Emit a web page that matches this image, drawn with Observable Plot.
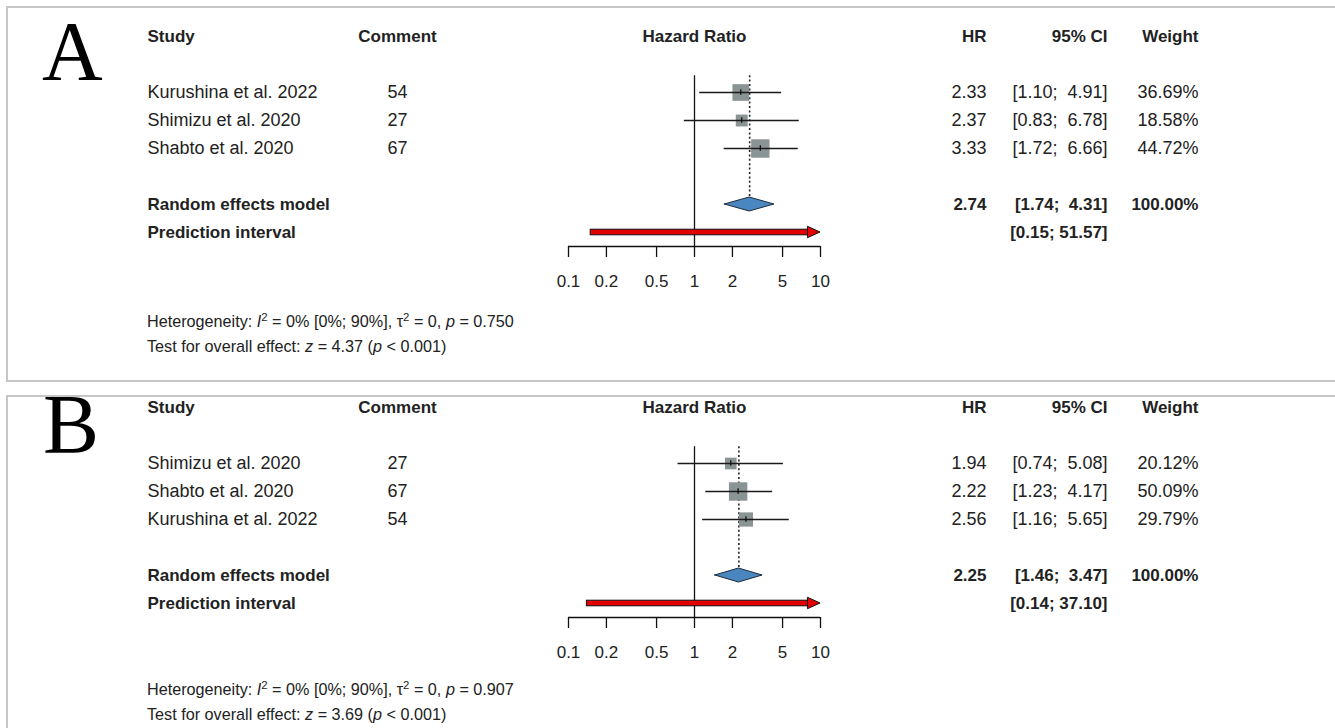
<!DOCTYPE html>
<html><head><meta charset="utf-8">
<script src="https://cdn.jsdelivr.net/npm/d3@7"></script>
<script src="https://cdn.jsdelivr.net/npm/@observablehq/plot@0.6"></script>
<style>
html,body{margin:0;padding:0;background:#fff;width:1335px;height:728px;overflow:hidden;}
#page{position:relative;width:1335px;height:728px;font-family:"Liberation Sans",Arial,sans-serif;color:#222;}
.box{position:absolute;left:6px;width:1345px;border:2px solid #c6c6c6;box-sizing:border-box;}
.letter{position:absolute;font-family:"Liberation Serif","Times New Roman",serif;font-size:84px;line-height:84px;color:#000;}
.foot{position:absolute;left:147px;font-size:16.2px;line-height:24.5px;white-space:nowrap;color:#222;}
.foot sup{font-size:0.7em;vertical-align:0.55em;line-height:0;}
.plotwrap{position:absolute;left:0;}
svg text{white-space:pre;}
</style></head><body><div id="page"></div>
<script>
// ---------- Panel A data ----------
const studiesA  = ["Kurushina et al. 2022", "Shimizu et al. 2020", "Shabto et al. 2020"];
const commentsA = [54, 27, 67];
const hrA       = [2.33, 2.37, 3.33];
const loA       = [1.10, 0.83, 1.72];
const hiA       = [4.91, 6.78, 6.66];
const weightA   = [36.69, 18.58, 44.72];
const pooledA   = [2.74, 1.74, 4.31];      // estimate, lower, upper
const predA     = [0.15, 51.57];
const hetA      = ["0%", "[0%; 90%]", "0", "0.750"];  // I2, I2 CI, tau2, p
const testA     = ["4.37", "< 0.001"];                 // z, p

// ---------- Panel B data ----------
const studiesB  = ["Shimizu et al. 2020", "Shabto et al. 2020", "Kurushina et al. 2022"];
const commentsB = [27, 67, 54];
const hrB       = [1.94, 2.22, 2.56];
const loB       = [0.74, 1.23, 1.16];
const hiB       = [5.08, 4.17, 5.65];
const weightB   = [20.12, 50.09, 29.79];
const pooledB   = [2.25, 1.46, 3.47];
const predB     = [0.14, 37.10];
const hetB      = ["0%", "[0%; 90%]", "0", "0.907"];
const testB     = ["3.69", "< 0.001"];

// ---------- shared ----------
const xTicks  = [0.1, 0.2, 0.5, 1, 2, 5, 10];
const xLimits = [0.1, 10];
const headers = ["Study", "Comment", "Hazard Ratio", "HR", "95% CI", "Weight"];
const modelLabels = ["Random effects model", "Prediction interval"];

const col = {study: 147, comment: 397, hr: 986, ci: 1107, weight: 1198};
const TXT = "#222";

const fmtCI = (lo, hi) => "[" + lo.toFixed(2) + "; " + hi.toFixed(2).padStart(5, " ") + "]";
const fmtW = w => w.toFixed(2) + "%";

function forest(studies, comments, hr, lo, hi, weight, pooled, pred) {
  const rows = studies.map((s, i) => ({
    study: s, comment: comments[i], hr: hr[i], lo: lo[i], hi: hi[i], w: weight[i], row: 2 + i
  }));
  const poolRow = 2 + rows.length + 1;
  const piRow = poolRow + 1;
  const axisRow = piRow + 0.5;
  const [xmin, xmax] = xLimits;
  const arrow = pred[1] > xmax;
  const barEnd = arrow ? xmax / 1.25 : pred[1];
  const pool = [{row: poolRow, hr: pooled[0], ci: fmtCI(pooled[1], pooled[2]), w: "100.00%", label: modelLabels[0]}];
  const pi = [{row: piRow, lo: pred[0], end: barEnd, ci: fmtCI(pred[0], pred[1]), label: modelLabels[1]}];
  const diamond = [
    {x: pooled[1], y1: poolRow, y2: poolRow},
    {x: pooled[0], y1: poolRow - 0.25, y2: poolRow + 0.25},
    {x: pooled[2], y1: poolRow, y2: poolRow}
  ];
  const axisLine = [{y: axisRow, x1: xmin, x2: xmax}];
  const nullLine = [{x: 1, y1: 1.4, y2: axisRow}];
  const poolLine = [{x: pooled[0], y1: 1.4, y2: poolRow - 0.25}];
  const head = [{row: 0, x: 1}];
  const colText = (data, text, dx, anchor, bold) => Plot.text(data, {
    y: "row", text, frameAnchor: "left", dx, textAnchor: anchor,
    fontWeight: bold ? "bold" : "normal", fontSize: bold ? 17 : 18, fill: TXT
  });

  const marks = [
    // axis
    Plot.ruleY(axisLine, {y: "y", x1: "x1", x2: "x2", stroke: "#111", strokeWidth: 1.3}),
    Plot.axisX({ticks: xTicks, tickFormat: d => String(d), tickSize: 11, tickPadding: 17,
      fontSize: 17, label: null, stroke: "#111", strokeWidth: 1.3, fill: TXT}),
    // line of no effect
    Plot.ruleX(nullLine, {x: "x", y1: "y1", y2: "y2", stroke: "#111", strokeWidth: 1.3}),
    // pooled estimate dotted line
    Plot.ruleX(poolLine, {x: "x", y1: "y1", y2: "y2", stroke: "#222", strokeWidth: 1.6, strokeDasharray: "2,2.4"}),
    // study squares
    Plot.dot(rows, {x: "hr", y: "row", r: "w", symbol: "square", fill: "#8b9494", stroke: "none"}),
    // CIs
    Plot.ruleY(rows, {y: "row", x1: "lo", x2: "hi", stroke: "#1a1a1a", strokeWidth: 1.3}),
    Plot.ruleX(rows, {x: "hr", y1: d => d.row - 0.1, y2: d => d.row + 0.1, stroke: "#111", strokeWidth: 1.3}),
    // diamond
    Plot.areaY(diamond, {x: "x", y1: "y1", y2: "y2", fill: "#4a86c0", stroke: "#1d2b3a", strokeWidth: 1}),
    // prediction interval bar
    Plot.rect(pi, {x1: "lo", x2: "end", y1: d => d.row - 0.1, y2: d => d.row + 0.1,
      fill: "#e50000", stroke: "#111", strokeWidth: 1}),
  ];
  if (arrow) {
    marks.push(Plot.areaY([
      {x: barEnd, y1: piRow - 0.2, y2: piRow + 0.2},
      {x: xmax, y1: piRow, y2: piRow}
    ], {x: "x", y1: "y1", y2: "y2", fill: "#e50000", stroke: "#111", strokeWidth: 1}));
  }
  marks.push(
    // header row
    colText(head, () => headers[0], col.study, "start", true),
    colText(head, () => headers[1], col.comment, "middle", true),
    Plot.text(head, {x: "x", y: "row", text: () => headers[2], fontWeight: "bold", fontSize: 17, fill: TXT}),
    colText(head, () => headers[3], col.hr, "end", true),
    colText(head, () => headers[4], col.ci, "end", true),
    colText(head, () => headers[5], col.weight, "end", true),
    // study rows
    colText(rows, "study", col.study, "start", false),
    colText(rows, d => String(d.comment), col.comment, "middle", false),
    colText(rows, d => d.hr.toFixed(2), col.hr, "end", false),
    colText(rows, d => fmtCI(d.lo, d.hi), col.ci, "end", false),
    colText(rows, d => fmtW(d.w), col.weight, "end", false),
    // pooled rows
    colText(pool, "label", col.study, "start", true),
    colText(pool, d => d.hr.toFixed(2), col.hr, "end", true),
    colText(pool, "ci", col.ci, "end", true),
    colText(pool, "w", col.weight, "end", true),
    colText(pi, "label", col.study, "start", true),
    colText(pi, "ci", col.ci, "end", true)
  );

  return Plot.plot({
    width: 1335, height: 300,
    marginTop: 0, marginLeft: 0, marginRight: 0, marginBottom: 54,
    style: {background: "transparent", fontFamily: "'Liberation Sans', Arial, sans-serif", color: TXT, overflow: "visible"},
    x: {type: "log", domain: xLimits, range: [568, 820]},
    y: {domain: [0, 10], range: [36, 316], axis: null},
    r: {range: [0, 10.4]},
    marks
  });
}

function footHTML(het, test) {
  return `Heterogeneity: <i>I</i><sup>2</sup> = ${het[0]} ${het[1]}, &tau;<sup>2</sup> = ${het[2]}, <i>p</i> = ${het[3]}<br>` +
         `Test for overall effect: <i>z</i> = ${test[0]} (<i>p</i> ${test[1].replace("<", "&lt;")})`;
}

const page = document.getElementById("page");
function addPanel(letter, boxTop, boxHeight, letterTop, letterLeft, svgTop, footTop, svg, foot) {
  const box = document.createElement("div");
  box.className = "box"; box.style.top = boxTop + "px"; box.style.height = boxHeight + "px";
  page.appendChild(box);
  const L = document.createElement("div");
  L.className = "letter"; L.textContent = letter; L.style.top = letterTop + "px"; L.style.left = letterLeft + "px";
  page.appendChild(L);
  const w = document.createElement("div");
  w.className = "plotwrap"; w.style.top = svgTop + "px";
  w.appendChild(svg); page.appendChild(w);
  const f = document.createElement("div");
  f.className = "foot"; f.style.top = footTop + "px"; f.innerHTML = foot;
  page.appendChild(f);
}

addPanel("A", 6, 376, 10, 42, 0, 309,
  forest(studiesA, commentsA, hrA, loA, hiA, weightA, pooledA, predA), footHTML(hetA, testA));
addPanel("B", 395, 400, 383, 43, 371, 677,
  forest(studiesB, commentsB, hrB, loB, hiB, weightB, pooledB, predB), footHTML(hetB, testB));
</script>
</body></html>
